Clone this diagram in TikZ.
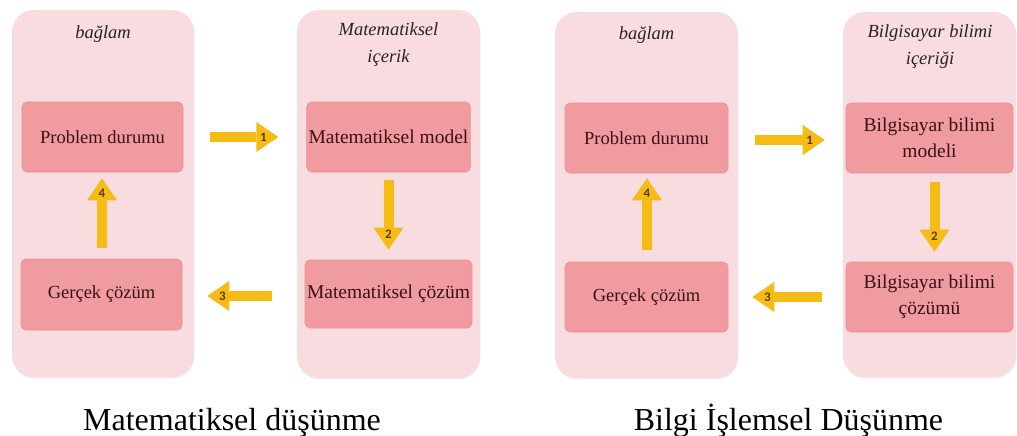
\documentclass[tikz,border=0pt]{standalone}
\usepackage{fontspec}
\setmainfont{Liberation Serif}
\newfontfamily\digitfont{Carlito}
\usetikzlibrary{arrows.meta,calc,shadows}

\definecolor{panelpink}{HTML}{F9DCDF}
\definecolor{boxpink}{HTML}{F09BA0}
\definecolor{boxedge}{HTML}{EA9095}
\definecolor{boxtext}{HTML}{3A1216}
\definecolor{titletext}{HTML}{2A2224}
\definecolor{arrowgold}{HTML}{F6BC14}
\definecolor{digitbrown}{HTML}{5E3A00}

% block arrow with a number near its head
\newcommand\flowarrow[3]{%
  \draw[blockarrow] (#1) -- (#2);
  \node[digit] at ($(#2)!15pt!(#1)$) {#3};}

\begin{document}
\begin{tikzpicture}[x=1pt,y=-1pt,
  panel/.style={fill=panelpink, draw=none, rounded corners=22pt,
    drop shadow={shadow xshift=0.4pt, shadow yshift=-1.4pt, opacity=0.16, fill=black!45}},
  box/.style={fill=boxpink, draw=boxedge, line width=0.6pt, rounded corners=5pt,
    text=boxtext, align=center, inner sep=2pt,
    font=\fontsize{18.5}{25}\selectfont},
  bigtext/.style={font=\fontsize{19.5}{26}\selectfont},
  title/.style={text=titletext, align=center, inner sep=0pt,
    font=\fontsize{18.5}{27}\selectfont\itshape},
  caption/.style={anchor=base, text=black, inner sep=0pt,
    font=\fontsize{32}{38}\selectfont},
  blockarrow/.style={draw=arrowgold, line width=10pt,
    -{Triangle[width=30pt,length=22pt,line width=0pt]}},
  digit/.style={text=digitbrown, inner sep=0pt,
    font=\digitfont\bfseries\fontsize{13}{13}\selectfont}
]
\useasboundingbox (0,0) rectangle (1017,436);

% ---------- Matematiksel düşünme ----------
\node[panel, minimum width=182pt, minimum height=367pt] (ctxA) at (103,193.5) {};
\node[panel, minimum width=183pt, minimum height=368pt] (mathA) at (388.5,194) {};
\node[title] (ctxAt) at (103,34) {bağlam};
\node[title] (mathAt) at (388.5,45) {Matematiksel\\içerik};

\node[box, minimum width=161pt, minimum height=70pt] (prob1) at (102.5,137) {Problem durumu};
\node[box, minimum width=161pt, minimum height=71pt] (real1) at (101.5,294.5) {Gerçek çözüm};
\node[box, bigtext, minimum width=161pt, minimum height=70pt] (mmodel) at (388.5,137) {Matematiksel model};
\node[box, bigtext, minimum width=161pt, minimum height=68pt] (msol) at (388.5,294) {Matematiksel çözüm};

\coordinate (a1s) at ($(prob1.east)+(27,0)$);
\coordinate (a1e) at ($(mmodel.west)+(-28,0)$);
\coordinate (a2s) at ($(mmodel.south)+(0,8)$);
\coordinate (a2e) at ($(msol.north)+(0,-10)$);
\coordinate (a3s) at ($(msol.west)+(-33,2)$);
\coordinate (a3e) at ($(real1.east)+(25,1.5)$);
\coordinate (a4s) at ($(real1.north)+(0.5,-11)$);
\coordinate (a4e) at ($(prob1.south)+(-0.5,6)$);
\flowarrow{a1s}{a1e}{1}
\flowarrow{a2s}{a2e}{2}
\flowarrow{a3s}{a3e}{3}
\flowarrow{a4s}{a4e}{4}

\node[caption] (capA) at (232,430) {Matematiksel düşünme};

% ---------- Bilgi İşlemsel Düşünme ----------
\node[panel, minimum width=183pt, minimum height=366pt] (ctxB) at (646.5,195) {};
\node[panel, minimum width=173pt, minimum height=365pt] (csB) at (929.5,194.5) {};
\node[title] (ctxBt) at (646.5,35) {bağlam};
\node[title] (csBt) at (930,47) {Bilgisayar bilimi\\içeriği};

\node[box, minimum width=163pt, minimum height=70pt] (prob2) at (646.5,138) {Problem durumu};
\node[box, minimum width=163pt, minimum height=70pt] (real2) at (646.5,297) {Gerçek çözüm};
\node[box, bigtext, minimum width=167pt, minimum height=70pt] (csmodel) at (929.5,138) {Bilgisayar bilimi\\modeli};
\node[box, bigtext, minimum width=167pt, minimum height=70pt] (cssol) at (929.5,297) {Bilgisayar bilimi\\çözümü};

\coordinate (b1s) at ($(prob2.east)+(27,2)$);
\coordinate (b1e) at ($(csmodel.west)+(-21,2)$);
\coordinate (b2s) at ($(csmodel.south)+(5,9)$);
\coordinate (b2e) at ($(cssol.north)+(5,-10)$);
\coordinate (b3s) at ($(cssol.west)+(-24,0)$);
\coordinate (b3e) at ($(real2.east)+(24,0)$);
\coordinate (b4s) at ($(real2.north)+(0.5,-12)$);
\coordinate (b4e) at ($(prob2.south)+(0.5,5)$);
\flowarrow{b1s}{b1e}{1}
\flowarrow{b2s}{b2e}{2}
\flowarrow{b3s}{b3e}{3}
\flowarrow{b4s}{b4e}{4}

\node[caption] (capB) at (788.5,430) {Bilgi İşlemsel Düşünme};
\end{tikzpicture}
\end{document}
